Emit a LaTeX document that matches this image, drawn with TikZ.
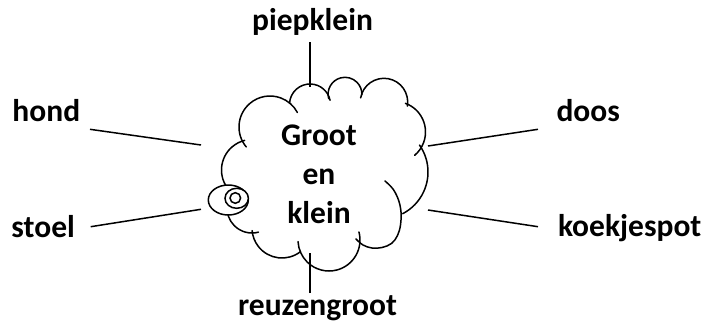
\documentclass[tikz,border=0pt]{standalone}
\usepackage{fontspec}
\setmainfont{Carlito}
\newcommand\cloudbump[4]{\draw[cloudline] (#1) ++(#2:#4pt) arc[start angle=#2, end angle=#3, radius=#4pt];}
\begin{document}
\begin{tikzpicture}[x=1pt, y=1pt, yscale=-1,
  lbl/.style={font=\fontsize{31.5}{39}\selectfont\bfseries, inner sep=0pt, outer sep=0pt},
  link/.style={line width=1.5pt},
  cloudline/.style={line width=1.5pt, line cap=round}]
\useasboundingbox (0,0) rectangle (705,325);

% cloud bumps
\cloudbump{252,170}{140}{256}{30.5}
\cloudbump{270,127}{140}{332}{31}
\cloudbump{310,104.5}{183}{348}{20.5}
\cloudbump{345,94.2}{165}{362}{16.9}
\cloudbump{384,102}{190}{370}{23.7}
\cloudbump{395,132}{290}{410}{30.5}
\cloudbump{381,172}{325}{422.5}{47}
\draw[cloudline] plot[smooth, tension=0.6] coordinates {(356,239) (363,245) (372,248) (382,247.5) (391.5,243.5) (397.5,235.5) (400.5,225) (401,212) (398.5,200) (393,189) (385,181)};
\cloudbump{329,240}{-15}{177}{31}
\cloudbump{282,228}{52}{175}{30}
\cloudbump{252,208}{75}{185}{25}

% small thought bubble
\draw[cloudline, fill=white] (228.3,200) ellipse [x radius=20, y radius=15];
\draw[cloudline, fill=white] (236.7,198.3) ellipse [x radius=11.7, y radius=10];
\draw[cloudline, fill=white] (235.3,198) circle [radius=5.3];

% texts
\node[lbl, align=center, anchor=base] (centre) at (319,223) {Groot\\en\\klein};
\node[lbl, anchor=base] (piep) at (312.5,30) {piepklein};
\node[lbl, anchor=base west] (hond) at (12.5,121.7) {hond};
\node[lbl, anchor=base west] (doos) at (556.5,121.7) {doos};
\node[lbl, anchor=base west] (stoel) at (11.5,237) {stoel};
\node[lbl, anchor=base west] (koek) at (558,236) {koekjespot};
\node[lbl, anchor=base] (reuz) at (317.5,315) {reuzengroot};

% connector end points
\coordinate (piepA) at (310,42);   \coordinate (piepB) at (310,87);
\coordinate (hondA) at (90,129.3); \coordinate (hondB) at (201,145);
\coordinate (doosA) at (538,129.3);\coordinate (doosB) at (428,146);
\coordinate (stoelA) at (90.7,226.7); \coordinate (stoelB) at (201,209.3);
\coordinate (koekA) at (538,226.7); \coordinate (koekB) at (428,210);
\coordinate (reuzA) at (310,293);  \coordinate (reuzB) at (310,253);

\draw[link] (piepA) -- (piepB);
\draw[link] (hondA) -- (hondB);
\draw[link] (doosA) -- (doosB);
\draw[link] (stoelA) -- (stoelB);
\draw[link] (koekA) -- (koekB);
\draw[link] (reuzA) -- (reuzB);
\end{tikzpicture}
\end{document}
